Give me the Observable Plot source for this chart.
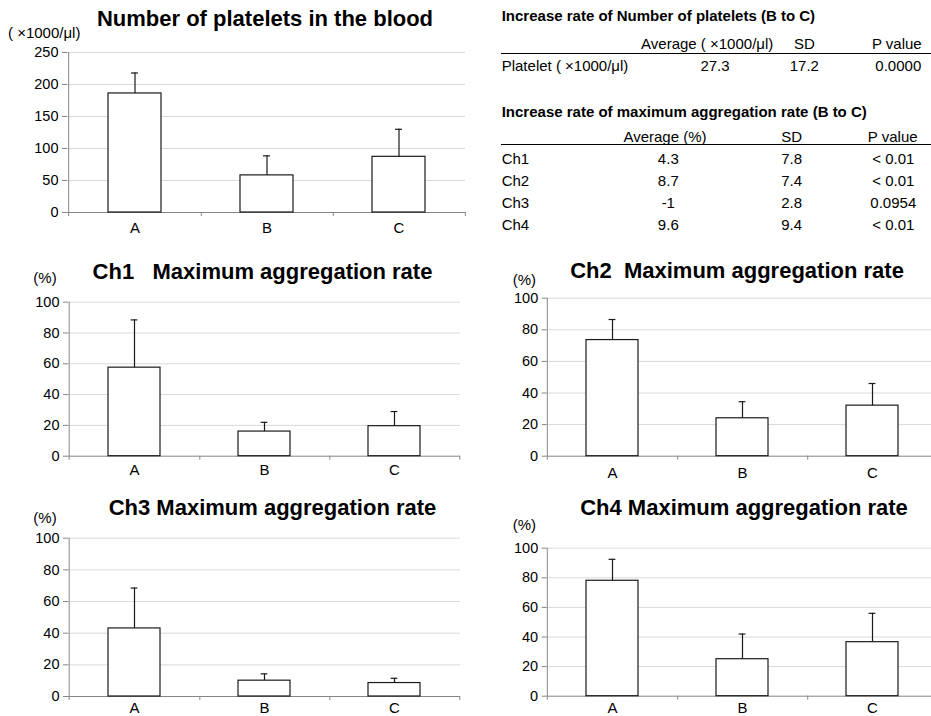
<!DOCTYPE html>
<html><head><meta charset="utf-8">
<script src="https://cdn.jsdelivr.net/npm/d3@7"></script>
<script src="https://cdn.jsdelivr.net/npm/@observablehq/plot@0.6"></script>
<style>
html,body{margin:0;padding:0;background:#fff;overflow:hidden}
#root{position:relative;width:931px;height:716px;overflow:hidden;font-family:"Liberation Sans",Arial,sans-serif;color:#000;background:#fff}
.t{position:absolute;line-height:1;white-space:pre}
#root svg{position:absolute}
.hl{position:absolute;background:#000;height:1.3px}
</style></head><body><div id="root"></div>
<script>
// ---- data ----
const groups = ["A", "B", "C"];
const plateletMean = [186, 58, 87];
const plateletSD = [32, 30.5, 43];
const ch1Mean = [57.5, 16, 19.5];
const ch1SD = [31, 6, 9.5];
const ch2Mean = [73.5, 24, 32];
const ch2SD = [13, 10.5, 14];
const ch3Mean = [43, 10, 8.5];
const ch3SD = [25.5, 4.3, 3];
const ch4Mean = [78, 25, 36.5];
const ch4SD = [14.5, 17, 19.5];
const plateletTicks = [0, 50, 100, 150, 200, 250];
const pctTicks = [0, 20, 40, 60, 80, 100];

const table1Title = "Increase rate of Number of platelets (B to C)";
const table1Header = ["Average ( ×1000/μl)", "SD", "P value"];
const table1Row = ["Platelet ( ×1000/μl)", "27.3", "17.2", "0.0000"];
const table2Title = "Increase rate of maximum aggregation rate (B to C)";
const table2Header = ["Average (%)", "SD", "P value"];
const table2Channels = ["Ch1", "Ch2", "Ch3", "Ch4"];
const table2Avg = ["4.3", "8.7", "-1", "9.6"];
const table2SD = ["7.8", "7.4", "2.8", "9.4"];
const table2P = ["< 0.01", "< 0.01", "0.0954", "< 0.01"];

const root = document.getElementById("root");
const FONT = '"Liberation Sans", Arial, sans-serif';

function addText(str, x, baseline, {size = 15, weight = "normal", anchor = "start"} = {}) {
  const d = document.createElement("div");
  d.className = "t";
  d.textContent = str;
  d.style.fontSize = size + "px";
  d.style.fontWeight = weight;
  d.style.left = x + "px";
  d.style.top = (baseline - 0.8465 * size) + "px";
  if (anchor === "middle") d.style.transform = "translateX(-50%)";
  if (anchor === "end") d.style.transform = "translateX(-100%)";
  root.appendChild(d);
}
function addLine(x1, x2, y) {
  const d = document.createElement("div");
  d.className = "hl";
  d.style.left = x1 + "px";
  d.style.width = (x2 - x1) + "px";
  d.style.top = (y - 0.65) + "px";
  root.appendChild(d);
}

function panel({mean, sd, ticks, ymax, left, top, width, height, ml, mr, mt, mb, labelPad}) {
  const data = groups.map((g, i) => ({group: g, value: mean[i], top: mean[i] + sd[i]}));
  const step = (width - ml - mr) / groups.length;
  const bw = step * 0.4;
  const axisColor = "#868686";
  const ink = "#1a1a1a";
  const svg = Plot.plot({
    width, height,
    marginLeft: ml, marginRight: mr, marginTop: mt, marginBottom: mb,
    style: {background: "transparent", overflow: "visible", fontFamily: FONT, fontSize: "14.5px", color: "#000"},
    x: {type: "band", domain: groups, paddingInner: 0.6, paddingOuter: 0.3, label: null},
    y: {domain: [0, ymax], label: null},
    marks: [
      Plot.ruleY(ticks.filter((t) => t > 0), {stroke: "#d9d9d9", strokeWidth: 1}),
      Plot.axisY(ticks, {tickSize: 5, tickPadding: 4, stroke: axisColor, fill: "#000", fontSize: 14.5, label: null}),
      Plot.axisX({tickSize: 0, tickPadding: labelPad, fill: "#000", fontSize: 15, label: null}),
      Plot.ruleY([0], {stroke: axisColor}),
      Plot.ruleX([groups[0]], {x: (d) => d, dx: -step / 2, y1: 0, y2: ymax, insetTop: 4, stroke: axisColor}),
      Plot.ruleX(groups, {x: (d) => d, dx: step / 2, y1: 0, y2: 0, insetTop: 4, stroke: axisColor}),
      Plot.barY(data, {x: "group", y: "value", fill: "white", stroke: ink, strokeWidth: 1.2}),
      Plot.ruleX(data, {x: "group", y1: "value", y2: "top", stroke: ink, strokeWidth: 1.2}),
      Plot.tickY(data, {x: "group", y: "top", insetLeft: bw / 2 - 3.5, insetRight: bw / 2 - 3.5, stroke: ink, strokeWidth: 1.2})
    ]
  });
  svg.style.left = left + "px";
  svg.style.top = top + "px";
  root.appendChild(svg);
}

// ---- panels ----
panel({mean: plateletMean, sd: plateletSD, ticks: plateletTicks, ymax: 250,
  left: 0, top: 40, width: 470, height: 200, ml: 67, mr: 5, mt: 12, mb: 28, labelPad: 10});
panel({mean: ch1Mean, sd: ch1SD, ticks: pctTicks, ymax: 100,
  left: 0, top: 290, width: 470, height: 190, ml: 68, mr: 10, mt: 11.7, mb: 24.3, labelPad: 8.6});
panel({mean: ch2Mean, sd: ch2SD, ticks: pctTicks, ymax: 100,
  left: 470, top: 285, width: 470, height: 195, ml: 76.7, mr: 2, mt: 12.7, mb: 24.3, labelPad: 11.6});
panel({mean: ch3Mean, sd: ch3SD, ticks: pctTicks, ymax: 100,
  left: 0, top: 527, width: 470, height: 189, ml: 68, mr: 10, mt: 10.7, mb: 20, labelPad: 6});
panel({mean: ch4Mean, sd: ch4SD, ticks: pctTicks, ymax: 100,
  left: 470, top: 537, width: 470, height: 179, ml: 76.7, mr: 2, mt: 10.7, mb: 20.3, labelPad: 6.2});

// ---- titles ----
addText("Number of platelets in the blood", 265, 27, {size: 22, weight: "bold", anchor: "middle"});
addText("Ch1   Maximum aggregation rate", 262.5, 280, {size: 22, weight: "bold", anchor: "middle"});
addText("Ch2  Maximum aggregation rate", 737, 278.5, {size: 22, weight: "bold", anchor: "middle"});
addText("Ch3 Maximum aggregation rate", 272.5, 516, {size: 22, weight: "bold", anchor: "middle"});
addText("Ch4 Maximum aggregation rate", 744, 516, {size: 22, weight: "bold", anchor: "middle"});
addText("( ×1000/μl)", 8, 38, {size: 15});
addText("(%)", 33.3, 283, {size: 15});
addText("(%)", 512.7, 284.5, {size: 15});
addText("(%)", 33.3, 523, {size: 15});
addText("(%)", 512.7, 530, {size: 15});

// ---- table 1 ----
addText(table1Title, 501.7, 20.7, {size: 15, weight: "bold"});
addText(table1Header[0], 773.3, 49, {anchor: "end"});
addText(table1Header[1], 804.5, 49, {anchor: "middle"});
addText(table1Header[2], 921.7, 49, {anchor: "end"});
addLine(501, 931, 53.3);
addText(table1Row[0], 501.7, 71);
addText(table1Row[1], 715, 71, {anchor: "middle"});
addText(table1Row[2], 804.3, 71, {anchor: "middle"});
addText(table1Row[3], 898.3, 71, {anchor: "middle"});

// ---- table 2 ----
addText(table2Title, 501.7, 116.7, {size: 15, weight: "bold"});
addText(table2Header[0], 665, 141.5, {anchor: "middle"});
addText(table2Header[1], 791.7, 141.5, {anchor: "middle"});
addText(table2Header[2], 892.7, 141.5, {anchor: "middle"});
addLine(501, 931, 144.3);
table2Channels.forEach((c, i) => {
  const b = 163.3 + i * 22.1;
  addText(c, 501.7, b);
  addText(table2Avg[i], 668.3, b, {anchor: "middle"});
  addText(table2SD[i], 791.7, b, {anchor: "middle"});
  addText(table2P[i], 893.3, b, {anchor: "middle"});
});
</script></body></html>
